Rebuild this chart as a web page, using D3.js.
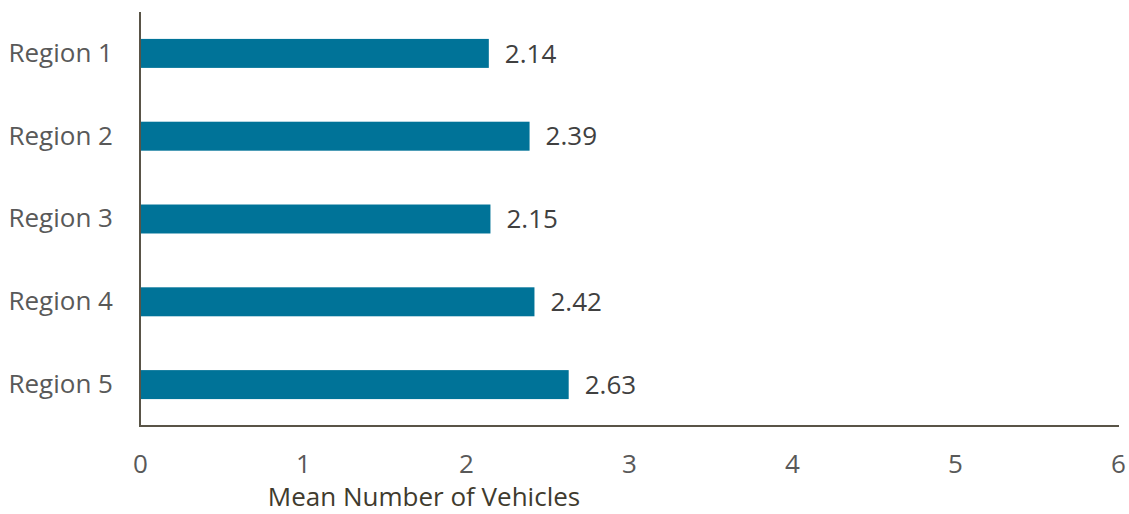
<!DOCTYPE html>
<html><head><meta charset="utf-8">
<script src="https://cdn.jsdelivr.net/npm/d3@7"></script>
<style>body{margin:0;background:#fff}svg{display:block}text{font-family:"Open Sans",sans-serif}</style>
</head><body><svg id="c" width="1129" height="514"></svg>
<script>
const categories = ["Region 1","Region 2","Region 3","Region 4","Region 5"];
const values = [2.14, 2.39, 2.15, 2.42, 2.63];
const xTicks = [0,1,2,3,4,5,6];
const xTitle = "Mean Number of Vehicles";

(function(){
const svg = d3.select("#c");
const mL = 140, mR = 1118, mT = 12, mB = 426;
const fs = 26;
const x = d3.scaleLinear().domain([0,6]).range([mL,mR]);
const y = d3.scaleBand().domain(categories).range([mT,mB]).paddingInner(0.65).paddingOuter(0.325);

svg.selectAll("rect.bar").data(values).join("rect")
  .attr("class","bar")
  .attr("x", x(0)).attr("y",(d,i)=>y(categories[i]))
  .attr("width", d=>x(d)-x(0)).attr("height", y.bandwidth())
  .attr("fill","#007398");

svg.selectAll("text.val").data(values).join("text")
  .attr("class","val")
  .attr("x", d=>x(d)+16).attr("y",(d,i)=>y(categories[i])+y.bandwidth()/2)
  .attr("dy","0.35em").attr("font-size",fs).attr("fill","#404040")
  .text(d=>d.toFixed(2));

const yAxis = d3.axisLeft(y).tickSize(0).tickPadding(27);
const gy = svg.append("g").attr("transform",`translate(${mL},0)`).call(yAxis);
gy.select(".domain").remove();
gy.selectAll("text").attr("font-size",fs).attr("fill","#595959").attr("font-family","Open Sans");

const xAxis = d3.axisBottom(x).tickValues(xTicks).tickSize(0).tickPadding(29).tickFormat(d3.format("d"));
const gx = svg.append("g").attr("transform",`translate(0,${mB})`).call(xAxis);
gx.select(".domain").remove();
gx.selectAll("text").attr("font-size",fs).attr("fill","#595959").attr("font-family","Open Sans");

svg.append("line").attr("x1",mL).attr("x2",mL).attr("y1",mT).attr("y2",mB)
  .attr("stroke","#595447").attr("stroke-width",2);
svg.append("line").attr("x1",mL-1).attr("x2",mR+1).attr("y1",mB).attr("y2",mB)
  .attr("stroke","#595447").attr("stroke-width",2);

svg.append("text").attr("x",424).attr("y",506)
  .attr("text-anchor","middle").attr("font-size",fs).attr("fill","#3f3b2e")
  .text(xTitle);
})();
</script></body></html>
